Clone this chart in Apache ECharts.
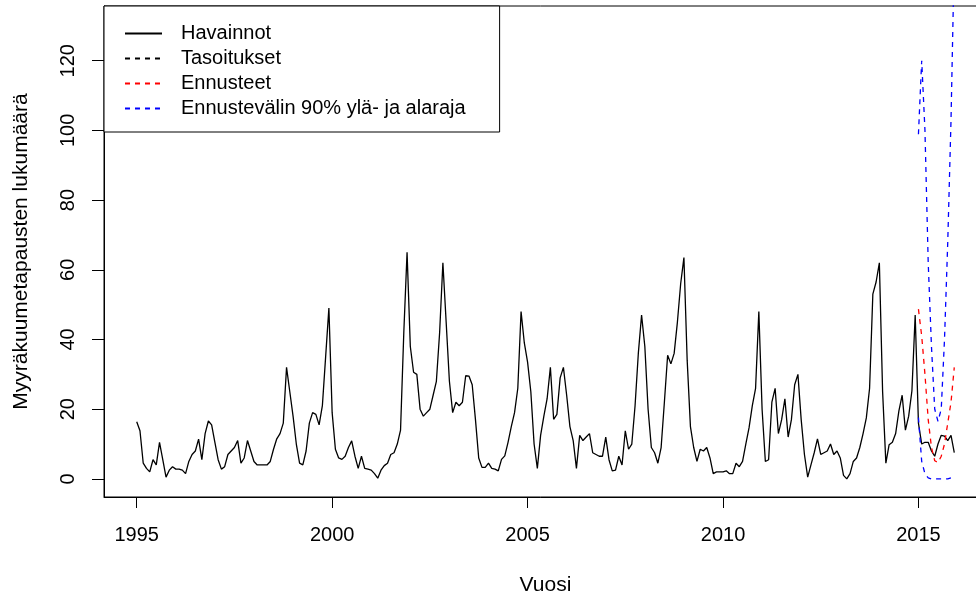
<!DOCTYPE html>
<html>
<head>
<meta charset="utf-8">
<script src="https://cdn.jsdelivr.net/npm/echarts@6/dist/echarts.min.js"></script>
<style>
  html, body { margin: 0; padding: 0; background: #fff; }
  #chart { width: 976px; height: 597px; }
</style>
</head>
<body>
<div id="chart"></div>
<script>
// monthly observations, Jan 1995 .. Dec 2015
const startYear = 1995;
const havainnot = [
  16.4, 13.8, 4.5, 3, 2, 5.5, 4, 10.5, 5.5, 0.5, 2.5, 3.5,      // 1995
  2.8, 2.8, 2.5, 1.5, 5, 7, 8, 11.4, 5.5, 13, 16.6, 15.5,       // 1996
  10.5, 5.5, 2.8, 3.5, 7, 8, 9, 11, 4.5, 6, 11, 8,              // 1997
  5, 4, 4, 4, 4, 5, 8.5, 11.5, 13, 16, 32, 25,                  // 1998
  18, 10, 4.5, 4, 8, 16, 19, 18.5, 15.5, 21, 35, 49,            // 1999
  19, 8.5, 6, 5.6, 6.5, 9, 10.9, 6.5, 3, 6.5, 3, 2.8,           // 2000
  2.5, 1.5, 0.2, 2.5, 3.8, 4.5, 7, 7.5, 10, 14, 42, 65,         // 2001
  38, 30.6, 30, 20, 18, 19, 20, 24, 28, 42, 62, 45,             // 2002
  28, 19, 22, 21, 22, 29.6, 29.5, 27, 17, 6, 3.3, 3.3,          // 2003
  4.5, 3, 2.8, 2.3, 5.6, 6.6, 10.5, 15, 19, 26, 48, 39,         // 2004
  33.5, 25, 10, 3, 12.5, 18, 23, 32, 17.1, 18.5, 29, 32,        // 2005
  24, 15, 11, 3, 12.5, 11, 12, 13, 7.5, 7, 6.5, 6.5,            // 2006
  12, 5.5, 2.3, 2.5, 6.5, 4, 13.8, 8.5, 10, 21, 36, 47,         // 2007
  38, 20, 9, 7.5, 4.5, 9, 22, 35.5, 33, 36, 45, 56,             // 2008
  63.5, 34, 15, 9, 5, 8.5, 8, 9, 6, 1.5, 2, 2,                  // 2009
  2, 2.3, 1.5, 1.5, 4.5, 3.5, 5, 10, 14.7, 21, 26, 48,          // 2010
  20, 5, 5.5, 22, 26, 13, 17, 23, 12, 17, 27, 30,               // 2011
  17, 7, 0.5, 4, 7.5, 11.5, 7, 7.5, 8, 10, 7, 8,                // 2012
  6, 1, 0, 1.5, 5, 6, 9, 13, 17.5, 26, 53, 56.5,                // 2013
  62, 25, 4.5, 9.8, 10.5, 13, 19.5, 24, 14, 18, 25.3, 47,       // 2014
  16, 10, 10.5, 10.5, 8, 6.5, 10, 12.5, 12.3, 11, 12.5, 7.5     // 2015
];

// forecasts for 2015, first month index 240 (Jan 2015)
const forecastStart = 240;
const ennusteet = [48.7, 41, 30, 17, 9, 5.2, 4.7, 6.5, 10, 16, 22, 32];
const ylaraja = [98.9, 120, 100, 62, 38, 20, 16.5, 20, 40, 68, 103, 150];
const alaraja = [17.6, 5, 1.5, 0.3, 0, 0, 0, 0, 0, 0, 0.3, 1.3];

const xTicks = [1995, 2000, 2005, 2010, 2015];
const yTicks = [0, 20, 40, 60, 80, 100, 120];

const toPoints = (vals, offset) =>
  vals.map((v, i) => [startYear + (offset + i) / 12, v]);

const font = "'Liberation Sans', Arial, sans-serif";
const txt = { color: '#000', fontFamily: font, fontSize: 20 };

const option = {
  animation: false,
  backgroundColor: '#fff',
  grid: {
    left: 104,
    top: 6,
    right: -11,
    bottom: 100,
    outerBoundsMode: 'none',
    show: true,
    borderColor: '#000',
    borderWidth: 1,
    backgroundColor: 'transparent'
  },
  legend: {
    orient: 'vertical',
    left: 104,
    top: 6,
    padding: [15, 34, 11, 20],
    itemWidth: 37,
    itemHeight: 12,
    itemGap: 0,
    borderColor: '#000',
    borderWidth: 1,
    backgroundColor: '#fff',
    itemStyle: { opacity: 0 },
    textStyle: { ...txt, lineHeight: 25, padding: [0, 0, 0, 14] },
    data: ['Havainnot', 'Tasoitukset', 'Ennusteet', 'Ennustevälin 90% ylä- ja alaraja']
  },
  xAxis: {
    type: 'value',
    min: 1994.163,
    max: 2016.754,
    name: 'Vuosi',
    nameLocation: 'middle',
    nameGap: 78,
    nameTextStyle: { ...txt, fontSize: 21 },
    axisLine: { onZero: false, lineStyle: { color: '#000', width: 1 } },
    axisTick: { length: 11, customValues: xTicks, lineStyle: { color: '#000' } },
    axisLabel: { ...txt, margin: 28, customValues: xTicks, formatter: v => String(v) },
    splitLine: { show: false }
  },
  yAxis: {
    type: 'value',
    min: -5.2,
    max: 135.7,
    name: 'Myyräkuumetapausten lukumäärä',
    nameLocation: 'middle',
    nameRotate: 90,
    nameGap: 72,
    nameTextStyle: { ...txt, fontSize: 21 },
    axisLine: { show: true, onZero: false, lineStyle: { color: '#000', width: 1 } },
    axisTick: { show: true, length: 12, customValues: yTicks, lineStyle: { color: '#000' } },
    axisLabel: { ...txt, rotate: 90, margin: 26, customValues: yTicks },
    splitLine: { show: false }
  },
  series: [
    {
      name: 'Havainnot',
      type: 'line',
      symbol: 'none',
      lineStyle: { color: '#000', width: 1.3 },
      itemStyle: { color: '#000' },
      data: toPoints(havainnot, 0)
    },
    {
      name: 'Tasoitukset',
      type: 'line',
      symbol: 'none',
      lineStyle: { color: '#000', width: 1.3, type: [5, 5] },
      itemStyle: { color: '#000' },
      data: []
    },
    {
      name: 'Ennusteet',
      type: 'line',
      symbol: 'none',
      lineStyle: { color: '#ff0000', width: 1.3, type: [5, 5] },
      itemStyle: { color: '#ff0000' },
      data: toPoints(ennusteet, forecastStart)
    },
    {
      name: 'Ennustevälin 90% ylä- ja alaraja',
      type: 'line',
      symbol: 'none',
      lineStyle: { color: '#0000ff', width: 1.3, type: [5, 5] },
      itemStyle: { color: '#0000ff' },
      data: toPoints(ylaraja, forecastStart)
    },
    {
      name: 'Ennustevälin 90% ylä- ja alaraja',
      type: 'line',
      symbol: 'none',
      lineStyle: { color: '#0000ff', width: 1.3, type: [5, 5] },
      itemStyle: { color: '#0000ff' },
      data: toPoints(alaraja, forecastStart)
    }
  ]
};

const chart = echarts.init(document.getElementById('chart'));
chart.setOption(option);
</script>
</body>
</html>
